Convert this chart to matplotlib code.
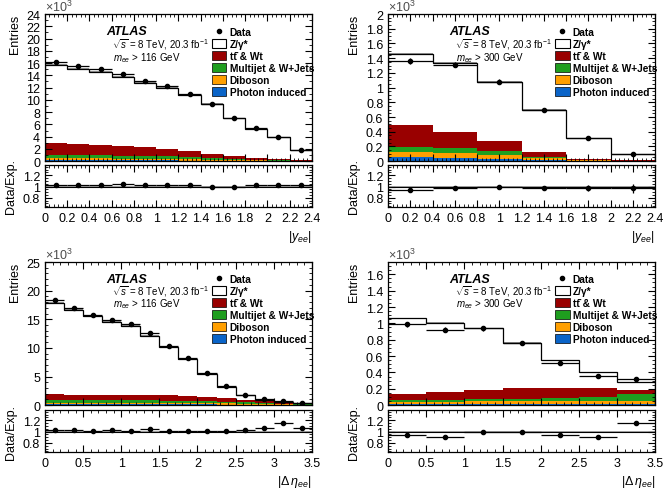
import numpy as np
import matplotlib
matplotlib.use('Agg')
import matplotlib.pyplot as plt
from matplotlib.patches import Patch
from matplotlib.lines import Line2D
from matplotlib.ticker import AutoMinorLocator, MultipleLocator

plt.rcParams['font.family'] = ['Liberation Sans', 'DejaVu Sans']
plt.rcParams['mathtext.fontset'] = 'custom'
plt.rcParams['mathtext.rm'] = 'Liberation Sans'
plt.rcParams['mathtext.it'] = 'Liberation Sans:italic'
plt.rcParams['mathtext.bf'] = 'Liberation Sans:bold'

# all yields in units of 10^3 entries
# --- |y_ee|, m_ee > 116 GeV
y116_edges = np.arange(0, 2.41, 0.2)
y116_data = [16.1, 15.6, 15.0, 14.3, 13.1, 12.2, 11.0, 9.4, 7.0, 5.4, 4.0, 1.8]
y116_mc = [15.7, 15.1, 14.5, 13.7, 12.8, 11.95, 10.75, 9.35, 7.0, 5.25, 3.9, 1.75]
y116_ratio = [1.03, 1.03, 1.03, 1.04, 1.02, 1.02, 1.02, 1.0, 1.0, 1.03, 1.03, 1.02]
y116_photon = [0.15, 0.15, 0.15, 0.14, 0.13, 0.12, 0.10, 0.08, 0.06, 0.04, 0.03, 0.02]
y116_diboson = [0.30, 0.30, 0.30, 0.28, 0.27, 0.25, 0.20, 0.15, 0.10, 0.08, 0.05, 0.03]
y116_multijet = [0.55, 0.55, 0.55, 0.50, 0.50, 0.45, 0.40, 0.30, 0.20, 0.13, 0.08, 0.04]
y116_ttbar = [1.9, 1.8, 1.7, 1.55, 1.4, 1.2, 0.9, 0.6, 0.4, 0.2, 0.14, 0.06]

# --- |y_ee|, m_ee > 300 GeV
y300_edges = np.arange(0, 2.41, 0.4)
y300_data = [1.36, 1.31, 1.08, 0.69, 0.31, 0.10]
y300_mc = [1.46, 1.34, 1.08, 0.70, 0.31, 0.10]
y300_ratio = [0.93, 0.98, 1.0, 0.97, 0.97, 0.97]
y300_ratio_err = [0.025, 0.025, 0.03, 0.035, 0.05, 0.08]
y300_photon = [0.05, 0.045, 0.035, 0.015, 0.006, 0.002]
y300_diboson = [0.07, 0.065, 0.045, 0.025, 0.009, 0.002]
y300_multijet = [0.07, 0.07, 0.06, 0.02, 0.005, 0.001]
y300_ttbar = [0.30, 0.22, 0.14, 0.06, 0.01, 0.005]

# --- |d eta_ee|, m_ee > 116 GeV
e116_edges = np.arange(0, 3.51, 0.25)
e116_data = [18.3, 17.05, 15.8, 14.9, 14.1, 12.6, 10.4, 8.2, 5.6, 3.3, 1.8, 1.05, 0.65, 0.35]
e116_mc = [17.8, 16.6, 15.5, 14.5, 13.8, 12.15, 10.2, 8.05, 5.5, 3.25, 1.75, 0.98, 0.57, 0.33]
e116_ratio = [1.03, 1.03, 1.02, 1.03, 1.02, 1.04, 1.02, 1.02, 1.02, 1.02, 1.03, 1.07, 1.15, 1.07]
e116_ratio_err = [0.01, 0.01, 0.01, 0.01, 0.01, 0.01, 0.01, 0.01, 0.01, 0.01, 0.015, 0.02, 0.025, 0.035]
e116_photon = [0.15, 0.15, 0.15, 0.15, 0.15, 0.14, 0.13, 0.12, 0.11, 0.09, 0.07, 0.05, 0.04, 0.02]
e116_diboson = [0.30, 0.30, 0.30, 0.30, 0.30, 0.29, 0.27, 0.25, 0.23, 0.20, 0.16, 0.12, 0.08, 0.05]
e116_multijet = [0.45, 0.45, 0.45, 0.45, 0.45, 0.42, 0.40, 0.38, 0.36, 0.31, 0.27, 0.18, 0.13, 0.08]
e116_ttbar = [1.0, 0.95, 0.95, 0.95, 0.95, 1.0, 0.95, 0.9, 0.8, 0.6, 0.45, 0.3, 0.15, 0.05]

# --- |d eta_ee|, m_ee > 300 GeV
e300_edges = np.arange(0, 3.51, 0.5)
e300_data = [0.99, 0.92, 0.94, 0.76, 0.52, 0.36, 0.32]
e300_mc = [1.06, 1.01, 0.94, 0.76, 0.55, 0.40, 0.28]
e300_ratio = [0.94, 0.91, 1.0, 1.0, 0.94, 0.90, 1.15]
e300_ratio_err = [0.02, 0.02, 0.02, 0.02, 0.025, 0.03, 0.04]
e300_photon = [0.015, 0.015, 0.015, 0.015, 0.015, 0.015, 0.015]
e300_diboson = [0.025, 0.025, 0.035, 0.04, 0.04, 0.04, 0.03]
e300_multijet = [0.02, 0.02, 0.02, 0.025, 0.035, 0.045, 0.085]
e300_ttbar = [0.08, 0.095, 0.12, 0.125, 0.115, 0.105, 0.06]

col_tt = '#990000'
col_mj = '#1f9e1f'
col_db = '#ff9f00'
col_ph = '#0a64c8'

fig = plt.figure(figsize=(6.67, 5.02), dpi=100)


def panel(left, mtop, mbot, rtop, rbot, edges, data, mc, ratio, rerr, bkgs,
          ymax, ystep, yticks, xmax, xstep, xlab, mcut, yminor=None):
    ax = fig.add_axes([left, mbot, 0.400, mtop - mbot])
    axr = fig.add_axes([left, rbot, 0.400, rtop - rbot], sharex=ax)
    edges = np.asarray(edges)
    centers = 0.5 * (edges[1:] + edges[:-1])
    halfw = 0.5 * (edges[1:] - edges[:-1])

    base = np.zeros(len(data))
    for vals, c in zip(bkgs, [col_ph, col_db, col_mj, col_tt]):
        vals = np.asarray(vals)
        ax.stairs(base + vals, edges, baseline=base.copy(), fill=True, color=c, lw=0)
        base = base + vals
    mc = np.asarray(mc)
    ax.fill_between(edges, np.append(mc, mc[-1]) * 0.99, np.append(mc, mc[-1]) * 1.01,
                    step='post', color='0.6', lw=0)
    ax.stairs(mc, edges, color='k', lw=0.9)
    data = np.asarray(data)
    ax.errorbar(centers, data, xerr=halfw, yerr=np.sqrt(data * 1000) / 1000,
                fmt='o', color='k', ms=3, lw=0.9, capsize=0)

    ax.set_xlim(0, xmax)
    ax.set_ylim(0, ymax)
    ax.yaxis.set_minor_locator(AutoMinorLocator(yminor or 5))
    ax.set_yticks(yticks)
    ax.set_yticklabels(['%g' % round(v, 2) for v in yticks])
    ax.xaxis.set_major_locator(MultipleLocator(xstep))
    ax.xaxis.set_minor_locator(AutoMinorLocator(5))
    plt.setp(ax.get_xticklabels(), visible=False)
    ax.set_ylabel('Entries', loc='top', fontsize=9)
    ax.text(0.0, 1.0, r'$\times10^{3}$', transform=ax.transAxes, fontsize=9,
            ha='left', va='bottom', color='0.3')

    ax.text(0.23, 0.885, 'ATLAS', transform=ax.transAxes, fontsize=9,
            fontweight='bold', fontstyle='italic', va='center')
    ax.text(0.25, 0.80, r'$\sqrt{s}$ = 8 TeV, 20.3 fb$^{-1}$', transform=ax.transAxes,
            fontsize=7.0, va='center')
    ax.text(0.255, 0.71, r'$m_{ee}$ > %d GeV' % mcut, transform=ax.transAxes,
            fontsize=7.0, va='center')

    handles = [Line2D([], [], marker='o', ls='none', color='k', ms=3),
               Patch(facecolor='white', edgecolor='k', lw=0.8),
               Patch(facecolor=col_tt, edgecolor='k', lw=0.5),
               Patch(facecolor=col_mj, edgecolor='k', lw=0.5),
               Patch(facecolor=col_db, edgecolor='k', lw=0.5),
               Patch(facecolor=col_ph, edgecolor='k', lw=0.5)]
    labels = ['Data', 'Z/\u03b3*', 't\u0074\u0304 & Wt', 'Multijet & W+Jets',
              'Diboson', 'Photon induced']
    ax.legend(handles, labels, loc='upper left', bbox_to_anchor=(0.625, 0.915),
              frameon=False, prop={'size': 7.3, 'weight': 'bold'},
              handlelength=1.45, handleheight=1.0, handletextpad=0.3,
              labelspacing=0.2, borderaxespad=0, borderpad=0)

    axr.axhspan(0.985, 1.015, color='0.65', lw=0)
    axr.axhline(1.0, color='k', lw=0.8)
    axr.errorbar(centers, ratio, xerr=halfw, yerr=rerr, fmt='o', color='k',
                 ms=3, lw=0.9, capsize=0)
    axr.set_ylim(0.64, 1.38)
    axr.set_yticks([0.8, 1.0, 1.2])
    axr.set_yticklabels(['0.8', '1', '1.2'])
    axr.yaxis.set_minor_locator(MultipleLocator(0.05))
    axr.set_ylabel('Data/Exp.', fontsize=9)
    axr.set_xlabel(xlab, loc='right', fontsize=9, labelpad=3)
    xt = np.arange(0, xmax + 1e-6, xstep)
    axr.set_xticks(xt)
    axr.set_xticklabels(['%g' % round(v, 2) for v in xt])

    for a in (ax, axr):
        a.tick_params(which='both', direction='in', top=True, right=True, labelsize=9)
        a.tick_params(which='major', length=5, width=0.8)
        a.tick_params(which='minor', length=2.5, width=0.6)
        for s in a.spines.values():
            s.set_linewidth(0.9)
    fig.align_ylabels([ax, axr])
    return ax, axr


panel(0.0675, 0.970, 0.677, 0.669, 0.586, y116_edges, y116_data, y116_mc, y116_ratio,
      [0.01] * 12, [y116_photon, y116_diboson, y116_multijet, y116_ttbar],
      24, 2, np.arange(0, 24.1, 2), 2.4, 0.2, r'$|y_{ee}|$', 116, yminor=2)
panel(0.582, 0.970, 0.677, 0.669, 0.586, y300_edges, y300_data, y300_mc, y300_ratio,
      y300_ratio_err, [y300_photon, y300_diboson, y300_multijet, y300_ttbar],
      2, 0.2, np.arange(0, 2.01, 0.2), 2.4, 0.2, r'$|y_{ee}|$', 300, yminor=4)
panel(0.0675, 0.476, 0.191, 0.181, 0.0976, e116_edges, e116_data, e116_mc, e116_ratio,
      e116_ratio_err, [e116_photon, e116_diboson, e116_multijet, e116_ttbar],
      25, 5, np.arange(0, 25.1, 5), 3.5, 0.5, r'$|\Delta\,\eta_{ee}|$', 116, yminor=5)
panel(0.582, 0.476, 0.191, 0.181, 0.0976, e300_edges, e300_data, e300_mc, e300_ratio,
      e300_ratio_err, [e300_photon, e300_diboson, e300_multijet, e300_ttbar],
      1.75, 0.2, np.arange(0, 1.61, 0.2), 3.5, 0.5, r'$|\Delta\,\eta_{ee}|$', 300, yminor=4)

fig.savefig('out.png', dpi=100)
